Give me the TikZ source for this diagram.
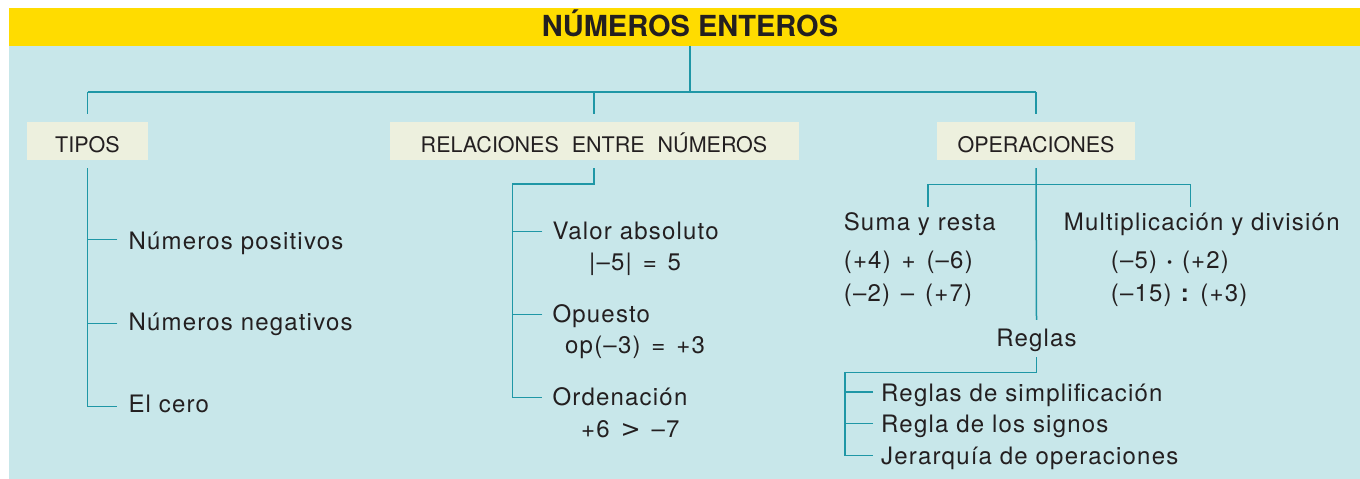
\documentclass[tikz,border=0pt]{standalone}
\usepackage{fontspec}
\setmainfont{TeX Gyre Heros}
\newfontfamily\bodyfont[LetterSpace=5]{TeX Gyre Heros}
\newfontfamily\headfont[WordSpace=2.2]{TeX Gyre Heros}
\newfontfamily\bigtitlefont{TeX Gyre Heros}
\newfontfamily\symfont{DejaVu Sans}
\definecolor{bandyellow}{HTML}{FFDC00}
\definecolor{bgblue}{HTML}{C8E7EA}
\definecolor{boxcream}{HTML}{EDF0DE}
\definecolor{linecol}{HTML}{1F97A6}
\definecolor{txt}{HTML}{231F20}
\newcommand{\mns}{–}
\newcommand{\opsp}{\hspace{3pt}}
\newcommand{\bigsym}[1]{{\symfont\fontsize{24}{28}\selectfont #1}}
\tikzset{
  conn/.style={draw=linecol, line width=1.5pt},
  body/.style={inner sep=0pt, anchor=base west, text=txt, text height=18pt, text depth=5pt,
    font=\bodyfont\fontsize{24}{28}\selectfont},
  headbox/.style={fill=boxcream, inner sep=0pt, minimum height=38pt, text height=22pt, text depth=0pt,
    text=txt, font=\headfont\fontsize{21.5}{26}\selectfont},
  titletext/.style={inner sep=0pt, anchor=base, text=txt, font=\bigtitlefont\bfseries\fontsize{29}{34}\selectfont}
}
\begin{document}
\begin{tikzpicture}[x=1pt,y=-1pt]
\useasboundingbox (0,0) rectangle (1360,479);
\fill[white] (0,0) rectangle (1360,479);
\fill[bgblue] (9,45.5) rectangle (1360,479);
\node[fill=bandyellow, minimum width=1351pt, minimum height=37.5pt, inner sep=0pt, anchor=north west] (band) at (9,8) {};
\node[titletext] (title) at (690,36) {NÚMEROS ENTEROS};

% header boxes
\node[headbox, minimum width=121pt] (tipos) at (87.5,141) {TIPOS};
\node[headbox, minimum width=409pt] (rel) at (594,141) {RELACIONES\hspace{7pt} ENTRE\hspace{7pt} NÚMEROS};
\node[headbox, minimum width=198pt] (ops) at (1036,141) {OPERACIONES};

% texts
\node[body] (pos) at (128.3,249.3) {Números positivos};
\node[body] (neg) at (128.3,330.7) {Números negativos};
\node[body] (cero) at (128.3,412.3) {El cero};

\node[body] (valor) at (552.3,239.3) {Valor absoluto};
\node[body] (valorex) at (589,270) {|\mns5|\opsp{} =\opsp{} 5};
\node[body] (opuex) at (565,353) {op(\mns3)\opsp{} =\opsp{} +3};
\node[body] (opu) at (552.3,322.3) {Opuesto};
\node[body] (orden) at (552.3,405.7) {Ordenación};
\node[body] (ordenex) at (581,437) {+6\opsp{} \bigsym{>}\opsp{} \mns7};

\node[body] (suma) at (843.6,230) {Suma y resta};
\node[body] (sumaex1) at (843.6,268.3) {(+4)\opsp{} +\opsp{} (\mns6)};
\node[body] (sumaex2) at (843.6,301.7) {(\mns2)\opsp{} \mns\opsp{} (+7)};
\node[body] (mult) at (1063.6,230) {Multiplicación y división};
\node[body] (multex1) at (1110.7,268.3) {(\mns5) \textbf{·} (+2)};
\node[body] (multex2) at (1110.7,301.7) {(\mns15) \textbf{:} (+3)};

\node[body, anchor=base] (reglas) at (1036.5,346) {Reglas};
\node[body] (rsimp) at (881,401) {Reglas de simplificación};
\node[body] (rsig) at (881,432.7) {Regla de los signos};
\node[body] (rjer) at (881,464.3) {Jerarquía de operaciones};

% coordinates
\coordinate (bus) at (0,92);
\coordinate (rj) at (512.3,184);
\coordinate (sbar) at (928,184.3);
\coordinate (mbar) at (1190.4,184.3);
\coordinate (rgj) at (845,372.3);

% title connectors
\draw[conn] (title |- band.south) -- (title |- bus);
\draw[conn] (tipos.north |- bus) -- (ops.north |- bus);
\draw[conn] (tipos.north |- bus) -- ([yshift=8pt]tipos.north);
\draw[conn] (rel.north |- bus) -- ([yshift=8pt]rel.north);
\draw[conn] (ops.north |- bus) -- ([yshift=8pt]ops.north);

% tipos
\draw[conn] ([yshift=-8pt]tipos.south) |- ([xshift=-11pt,yshift=6pt]cero.base west);
\draw[conn] ([xshift=-11pt,yshift=10pt]pos.base west) -| ([yshift=-8pt]tipos.south);
\draw[conn] ([xshift=-11pt,yshift=7pt]neg.base west) -| ([yshift=-8pt]tipos.south);

% relaciones
\draw[conn] ([yshift=-8pt]rel.south) |- (rj) |- ([xshift=-10pt,yshift=8pt]orden.base west);
\draw[conn] ([xshift=-10pt,yshift=8pt]valor.base west) -| (rj);
\draw[conn] ([xshift=-10pt,yshift=8pt]opu.base west) -| (rj);

% operaciones
\draw[conn] ([yshift=-8pt]ops.south) -- ([yshift=8pt]reglas.north);
\draw[conn] (sbar) -- (mbar);
\draw[conn] (sbar) -- ++(0,22.4);
\draw[conn] (mbar) -- ++(0,22.4);

% reglas
\draw[conn] ([yshift=-6pt]reglas.south) |- (rgj) |- ([xshift=-8pt,yshift=9pt]rjer.base west);
\draw[conn] ([xshift=-8pt,yshift=9pt]rsimp.base west) -| (rgj);
\draw[conn] ([xshift=-8pt,yshift=9pt]rsig.base west) -| (rgj);
\end{tikzpicture}
\end{document}
